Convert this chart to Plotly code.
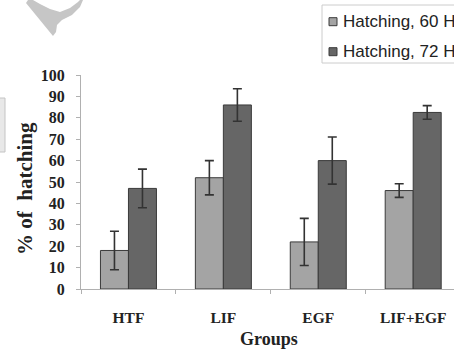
import plotly.graph_objects as go

# ---- data ----
groups = ["HTF", "LIF", "EGF", "LIF+EGF"]
series_names = ["Hatching, 60 H", "Hatching, 72 H"]
hatch_60 = [18, 52, 22, 46]
err_60 = [9, 8, 11, 3.2]
hatch_72 = [47, 86, 60, 82.5]
err_72 = [9, 7.6, 11, 3.2]
y_ticks = list(range(0, 101, 10))

# ---- geometry helpers (figure pixels -> paper coords) ----
W, H = 454, 351
L, R, T, B = 81, 0, 75, 62
PW, PH = W - L - R, H - T - B


def px(x):
    return (x - L) / PW


def py(y):
    return (H - B - y) / PH


SERIF = "Liberation Serif, Times New Roman, serif"
SANS = "Liberation Sans, Arial, sans-serif"
C60, C72, EDGE = "#a4a4a4", "#666666", "#3a3a3a"

fig = go.Figure()
fig.add_trace(go.Bar(
    x=groups, y=hatch_60, name=series_names[0], showlegend=False,
    marker=dict(color=C60, line=dict(color=EDGE, width=1)),
    error_y=dict(type="data", array=err_60, color="#333333", thickness=1.6, width=4.5),
))
fig.add_trace(go.Bar(
    x=groups, y=hatch_72, name=series_names[1], showlegend=False,
    marker=dict(color=C72, line=dict(color=EDGE, width=1)),
    error_y=dict(type="data", array=err_72, color="#333333", thickness=1.6, width=4.5),
))

fig.update_layout(
    width=W, height=H,
    margin=dict(l=L, r=R, t=T, b=B, pad=0, autoexpand=False),
    paper_bgcolor="white", plot_bgcolor="white",
    barmode="group", bargap=0.41, bargroupgap=0,
    showlegend=False,
    xaxis=dict(
        type="category", range=[-0.5, 3.43], tickson="boundaries",
        ticks="outside", ticklen=4, tickcolor="#b0b0b0",
        showline=True, linecolor="#b0b0b0", linewidth=1,
        showgrid=False, ticklabelstandoff=14,
        tickfont=dict(family=SERIF, size=15.5, color="#222222", weight="bold"),
    ),
    yaxis=dict(
        range=[0, 100], tickvals=y_ticks, ticks="outside", ticklen=4,
        tickcolor="#b0b0b0", showline=True, linecolor="#b0b0b0", linewidth=1,
        showgrid=False, zeroline=False, ticklabelstandoff=8,
        tickfont=dict(family=SERIF, size=16, color="#222222", weight="bold"),
    ),
)

shapes = []
annotations = []

# axis titles
annotations.append(dict(
    xref="paper", yref="paper", x=px(269), y=py(339), text="Groups",
    showarrow=False, xanchor="center", yanchor="middle",
    font=dict(family=SERIF, size=18, color="#222222", weight="bold"),
))
annotations.append(dict(
    xref="paper", yref="paper", x=px(25), y=py(189), text="% of  hatching",
    showarrow=False, xanchor="center", yanchor="middle", textangle=-90,
    font=dict(family=SERIF, size=21, color="#222222", weight="bold"),
))

# legend (drawn as box + swatches + text)
shapes.append(dict(type="rect", xref="paper", yref="paper",
                   x0=px(322), x1=px(470), y0=py(63), y1=py(5),
                   line=dict(color="#cccccc", width=1), fillcolor="white", layer="above"))
for i, (name, col) in enumerate(zip(series_names, [C60, C72])):
    cy = 21.7 + 30 * i
    shapes.append(dict(type="rect", xref="paper", yref="paper",
                       x0=px(329), x1=px(337), y0=py(cy + 4), y1=py(cy - 4),
                       line=dict(color=EDGE, width=1), fillcolor=col, layer="above"))
    annotations.append(dict(
        xref="paper", yref="paper", x=px(341), y=py(cy), text=name,
        showarrow=False, xanchor="left", yanchor="middle",
        font=dict(family=SANS, size=17, color="#222222"),
    ))

# scan artefacts (watermark shapes)
wm = [(28, 0), (33, 0), (40, 4), (50, 9), (60, 12), (70, 8), (78, 2), (80, 0), (83, 0),
      (80, 7), (72, 15), (62, 20), (57, 25), (56, 32), (53, 36), (26, 3)]
path = "M " + " L ".join(f"{px(a):.5f},{py(b):.5f}" for a, b in wm) + " Z"
shapes.append(dict(type="path", xref="paper", yref="paper", path=path,
                   fillcolor="#c6c6c6", line=dict(width=0), layer="above"))
shapes.append(dict(type="rect", xref="paper", yref="paper",
                   x0=px(-6), x1=px(5), y0=py(152), y1=py(98),
                   fillcolor="#e8e8e8", line=dict(color="#c4c4c4", width=1), layer="above"))

fig.update_layout(shapes=shapes, annotations=annotations)
fig.write_html("out.html")
